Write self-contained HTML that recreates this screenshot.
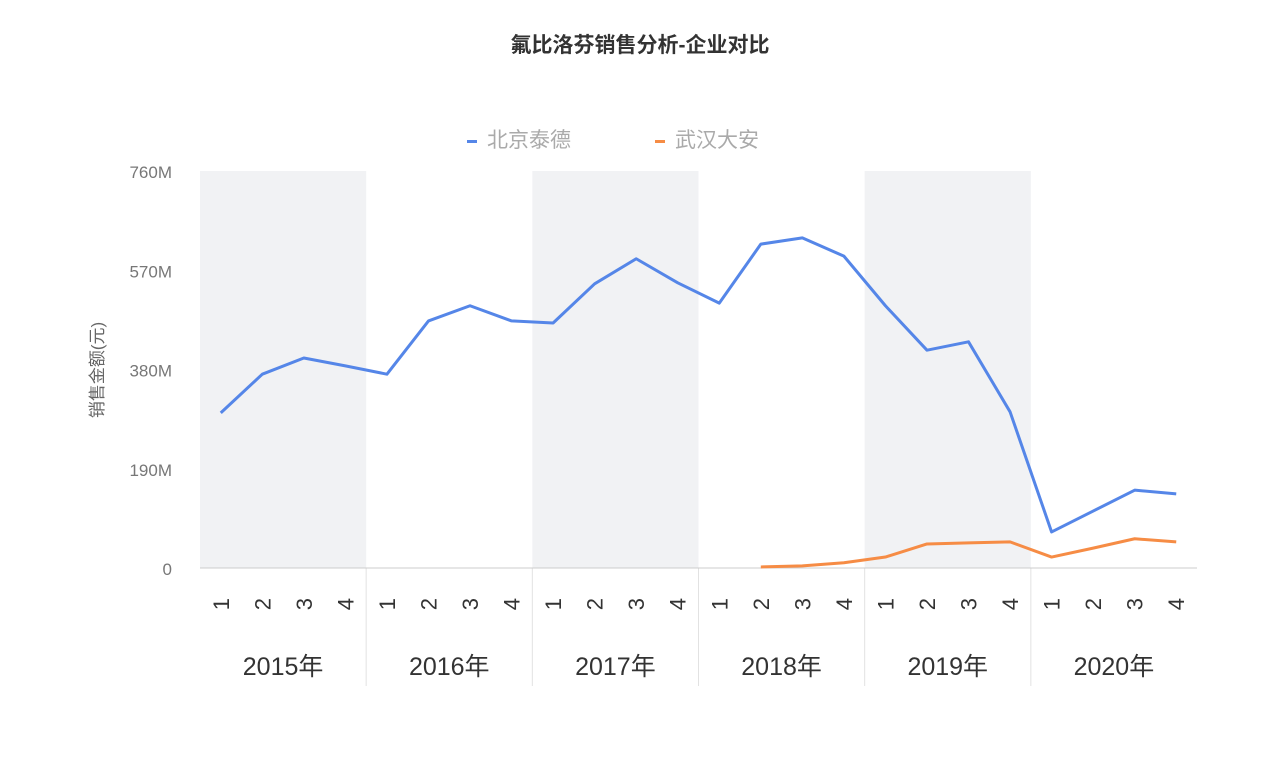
<!DOCTYPE html>
<html><head><meta charset="utf-8"><style>
body{margin:0;background:#fff;font-family:"Liberation Sans","Noto Sans CJK SC",sans-serif;}
</style></head><body>
<svg id="c" width="1280" height="766" xmlns="http://www.w3.org/2000/svg">
<text x="640" y="52" text-anchor="middle" font-size="21" font-weight="bold" fill="#333" font-family="Liberation Sans,Noto Sans CJK SC,sans-serif">氟比洛芬销售分析-企业对比</text>
<g>
<rect x="467" y="140" width="10" height="3" fill="#5586e8"/>
<text x="487" y="147" font-size="21" fill="#aaa" font-family="Liberation Sans,Noto Sans CJK SC,sans-serif">北京泰德</text>
<rect x="655" y="140" width="10" height="3" fill="#f68c45"/>
<text x="675" y="147" font-size="21" fill="#aaa" font-family="Liberation Sans,Noto Sans CJK SC,sans-serif">武汉大安</text>
</g>
<text transform="translate(103,370) rotate(-90)" text-anchor="middle" font-size="17" fill="#666" font-family="Liberation Sans,Noto Sans CJK SC,sans-serif">销售金额(元)</text>
<g id="bands"></g><g id="axes"></g><g id="lines"></g>
</svg>
<script>
const years=['2015年','2016年','2017年','2018年','2019年','2020年'];
const quarters=['1','2','3','4'];
const yTicks=[0,190,380,570,760];
const yTickLabels=['0','190M','380M','570M','760M'];
const beijing=[297,371,402,387,371,473,502,473,469,544,592,546,507,620,632,597,502,417,433,299,69,109,149,142];
const wuhan=[null,null,null,null,null,null,null,null,null,null,null,null,null,2,4,10,21,46,48,50,21,38,56,50];
const NS='http://www.w3.org/2000/svg';
const x0=200,x1=1197,y0=568,y1=171,yMax=760;
const n=years.length*quarters.length,qw=(x1-x0)/n;
const xs=i=>x0+qw*(i+0.5);
const ys=v=>y0-(v/yMax)*(y0-y1);
function mk(t,a,p){const e=document.createElementNS(NS,t);for(const k in a)e.setAttribute(k,a[k]);p.appendChild(e);return e;}
const bands=document.getElementById('bands'),axes=document.getElementById('axes'),lines=document.getElementById('lines');
years.forEach((y,j)=>{
 const bx=x0+j*qw*4;
 if(j%2===0){const r=mk('rect',{x:bx,y:y1,width:qw*4,height:y0-y1,fill:'#f1f2f4'},bands);
 
 }
 if(j>0){const l=mk('line',{x1:bx,x2:bx,y1:y0,y2:686,stroke:'#e2e2e2'},axes);
 
 }
 const t=mk('text',{x:bx+qw*2,y:675,'text-anchor':'middle','font-size':25,fill:'#333'},axes);t.textContent=y;
 
 
 quarters.forEach((q,k)=>{const cx=xs(j*4+k);
  const qt=mk('text',{transform:`translate(${cx+8},598) rotate(-90)`,'text-anchor':'end','font-size':22,fill:'#333'},axes);qt.textContent=q;
  
  });
});
yTicks.forEach((v,i)=>{const t=mk('text',{x:172,y:ys(v)+7,'text-anchor':'end','font-size':17,fill:'#777'},axes);t.textContent=yTickLabels[i];
 
 });
const ax=mk('line',{x1:x0,x2:x1,y1:y0,y2:y0,stroke:'#ccc'},axes);


function path(arr,color,name){let d='',s=false;arr.forEach((v,i)=>{if(v==null){s=false;return;}d+=(s?'L':'M')+xs(i)+','+ys(v);s=true;});
 const p=mk('path',{d:d,fill:'none',stroke:color,'stroke-width':3,'stroke-linejoin':'round'},lines);
 
 }
path(beijing,'#5586e8','series-beijing-line');
path(wuhan,'#f68c45','series-wuhan-line');
</script>
</body></html>
